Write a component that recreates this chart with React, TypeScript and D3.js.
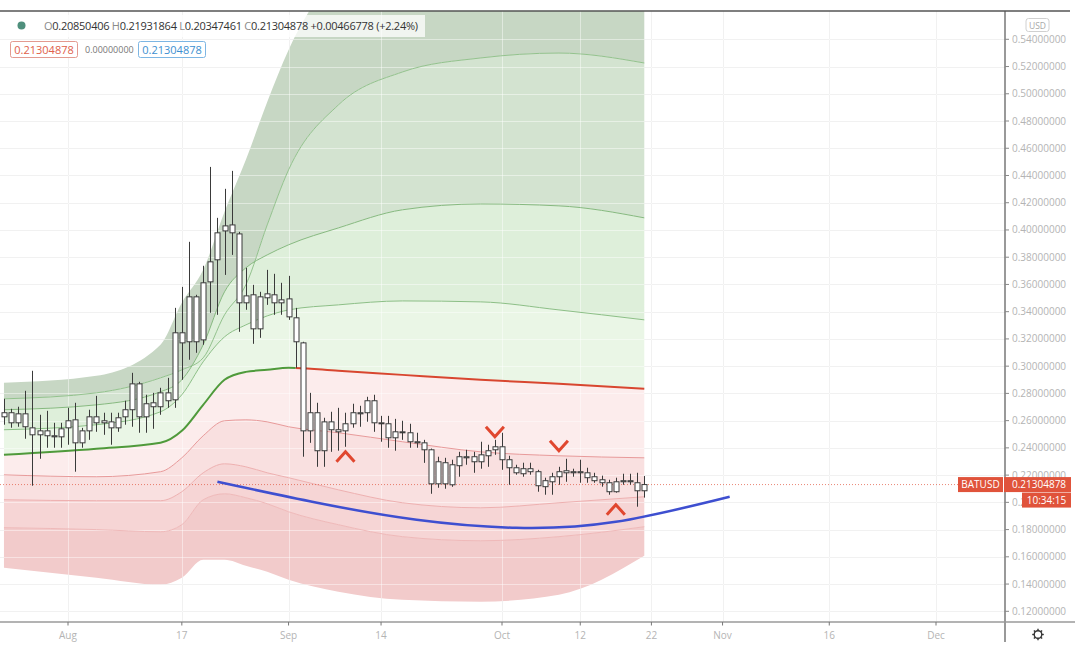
import React from "react";
import * as d3 from "d3";

// ---- data ----
const firstCandle = "2020-07-23";
// [open, high, low, close], one per day
const ohlc: number[][] = [
  [0.2628, 0.276, 0.257, 0.2658], [0.2658, 0.2687, 0.2548, 0.2584], [0.2584, 0.2702, 0.2555, 0.265],
  [0.265, 0.2819, 0.2467, 0.2555], [0.2547, 0.2966, 0.2122, 0.2496], [0.2496, 0.2643, 0.232, 0.2525],
  [0.2525, 0.2672, 0.2401, 0.2489], [0.2489, 0.2584, 0.2401, 0.2481], [0.2481, 0.2584, 0.2401, 0.254],
  [0.2547, 0.2694, 0.2423, 0.2599], [0.2606, 0.2731, 0.2225, 0.2437], [0.2437, 0.2547, 0.2401, 0.2525],
  [0.2525, 0.268, 0.2459, 0.2628], [0.2628, 0.2782, 0.2518, 0.2584], [0.2584, 0.2658, 0.2496, 0.2599],
  [0.2591, 0.2658, 0.2423, 0.2547], [0.2547, 0.2658, 0.2518, 0.2621], [0.2628, 0.2746, 0.257, 0.268],
  [0.268, 0.2951, 0.2555, 0.287], [0.287, 0.2885, 0.2511, 0.2628], [0.2628, 0.279, 0.2511, 0.2724],
  [0.2702, 0.2804, 0.254, 0.2731], [0.2702, 0.2841, 0.2643, 0.2804], [0.2804, 0.2914, 0.2694, 0.2746],
  [0.2753, 0.3428, 0.2694, 0.3245], [0.3245, 0.3582, 0.29, 0.3171], [0.3179, 0.3913, 0.3047, 0.3509],
  [0.3509, 0.3524, 0.3098, 0.3179], [0.3193, 0.3737, 0.3157, 0.3612], [0.3619, 0.4463, 0.3392, 0.3766],
  [0.3781, 0.4089, 0.3377, 0.3979], [0.3993, 0.4302, 0.367, 0.403], [0.4037, 0.4434, 0.3817, 0.3979],
  [0.3971, 0.3986, 0.3252, 0.3465], [0.3465, 0.3722, 0.3414, 0.3516], [0.3524, 0.3597, 0.3164, 0.3274],
  [0.3274, 0.3546, 0.3208, 0.3509], [0.3502, 0.3707, 0.345, 0.3531], [0.3524, 0.3678, 0.3377, 0.3465],
  [0.3465, 0.3612, 0.3377, 0.3487], [0.3494, 0.3663, 0.334, 0.3362], [0.3355, 0.3428, 0.2988, 0.3179],
  [0.3171, 0.3179, 0.2335, 0.2525], [0.2525, 0.2804, 0.2437, 0.2658], [0.2658, 0.2731, 0.2261, 0.2379],
  [0.2379, 0.2621, 0.2261, 0.2591], [0.2591, 0.2665, 0.2371, 0.2533], [0.2533, 0.2694, 0.2379, 0.2518],
  [0.2525, 0.2658, 0.2408, 0.2577], [0.2577, 0.2724, 0.2548, 0.2658], [0.265, 0.2709, 0.2555, 0.2658],
  [0.2658, 0.2775, 0.2592, 0.2746], [0.2746, 0.279, 0.2518, 0.2584], [0.2584, 0.2635, 0.2445, 0.2577],
  [0.2577, 0.2635, 0.2401, 0.2474], [0.2474, 0.2613, 0.2379, 0.2518], [0.2518, 0.2599, 0.2459, 0.2511],
  [0.2511, 0.2577, 0.2401, 0.2445], [0.2445, 0.2511, 0.2401, 0.2437], [0.2437, 0.2459, 0.229, 0.2386],
  [0.2386, 0.2395, 0.2063, 0.2136], [0.2136, 0.2335, 0.2107, 0.2298], [0.2291, 0.2327, 0.21, 0.2136],
  [0.2129, 0.2313, 0.2114, 0.2276], [0.2269, 0.2371, 0.2188, 0.2335], [0.2335, 0.2386, 0.2276, 0.2327],
  [0.2298, 0.2371, 0.2217, 0.2335], [0.2298, 0.2445, 0.2247, 0.2349], [0.2342, 0.2423, 0.2261, 0.2379],
  [0.2386, 0.2459, 0.2349, 0.2408], [0.2408, 0.2511, 0.2239, 0.2313], [0.2313, 0.2342, 0.2129, 0.2254],
  [0.2254, 0.2276, 0.2203, 0.2217], [0.221, 0.2291, 0.2188, 0.2247], [0.2247, 0.2291, 0.2203, 0.2225],
  [0.2225, 0.2239, 0.2078, 0.2122], [0.2115, 0.2181, 0.2056, 0.2159], [0.2151, 0.2217, 0.2056, 0.2188],
  [0.2188, 0.2261, 0.2129, 0.2225], [0.2217, 0.232, 0.2151, 0.2232], [0.2225, 0.2247, 0.2188, 0.2217],
  [0.2217, 0.2313, 0.2144, 0.2225], [0.2217, 0.2254, 0.2144, 0.2181], [0.2188, 0.2217, 0.2144, 0.2159],
  [0.2166, 0.2196, 0.2115, 0.2144], [0.2144, 0.2166, 0.2056, 0.2078], [0.2078, 0.2181, 0.2071, 0.2151],
  [0.2151, 0.221, 0.2129, 0.2159], [0.2159, 0.221, 0.2129, 0.2151], [0.2144, 0.2217, 0.1968, 0.2085],
  [0.20850406, 0.21931864, 0.20347461, 0.21304878],
];

// band lines, sampled at these dates
const bandDates = [
  "2020-07-23", "2020-08-05", "2020-08-14", "2020-08-17", "2020-08-20", "2020-08-23", "2020-08-26",
  "2020-08-29", "2020-09-01", "2020-09-08", "2020-09-17", "2020-09-28", "2020-10-09", "2020-10-21",
];
const upperOuter = [0.2878, 0.2929, 0.3157, 0.3465, 0.3707, 0.4133, 0.4515, 0.494, 0.5322, 0.59, 0.62, 0.65, 0.67, 0.68];
const upper3 = [0.276, 0.2804, 0.2914, 0.2973, 0.3061, 0.3377, 0.3597, 0.4037, 0.4441, 0.4918, 0.516, 0.5263, 0.5299, 0.5226];
const upper2 = [0.268, 0.2716, 0.2812, 0.29, 0.3157, 0.3546, 0.3722, 0.3817, 0.3891, 0.4015, 0.4148, 0.4191, 0.4177, 0.4089];
const upper1 = [0.2533, 0.257, 0.2665, 0.279, 0.3032, 0.3215, 0.3303, 0.3369, 0.3413, 0.345, 0.3479, 0.3472, 0.3413, 0.334];
const basis = [0.2349, 0.2393, 0.2437, 0.2525, 0.2716, 0.29, 0.2958, 0.2973, 0.2988, 0.2966, 0.2936, 0.29, 0.287, 0.2834];
const lower1 = [0.2202, 0.2188, 0.2225, 0.2327, 0.2489, 0.2599, 0.2606, 0.2591, 0.2555, 0.2511, 0.2445, 0.2371, 0.2342, 0.2327];
const lower2 = [0.2019, 0.2012, 0.2012, 0.2078, 0.2217, 0.2283, 0.2261, 0.2217, 0.2181, 0.2092, 0.1997, 0.196, 0.1997, 0.2041];
const lower3 = [0.1814, 0.18, 0.1784, 0.1836, 0.2019, 0.2063, 0.2034, 0.199, 0.1931, 0.1836, 0.1748, 0.1718, 0.1748, 0.1821];
const lowerOuter = [0.152, 0.1447, 0.1396, 0.1447, 0.1579, 0.1579, 0.1535, 0.149, 0.1432, 0.1344, 0.1285, 0.1271, 0.1322, 0.1608];
const basisTurnsRed = "2020-09-02";

// hand drawn blue arc
const arcDates = ["2020-08-22", "2020-09-05", "2020-09-19", "2020-10-03", "2020-10-17", "2020-11-02"];
const arcValues = [0.2151, 0.1997, 0.1872, 0.1813, 0.1857, 0.2041];

// red chevrons: "up" drawn under price, "down" above
const marks = [
  { date: "2020-09-09", value: 0.2335, dir: "up" },
  { date: "2020-09-30", value: 0.2518, dir: "down" },
  { date: "2020-10-09", value: 0.2415, dir: "down" },
  { date: "2020-10-17", value: 0.1946, dir: "up" },
];

const priceTicks = d3.range(12, 55, 2).map((v) => v / 100);
const dateTicks = [
  ["2020-08-01", "Aug"], ["2020-08-17", "17"], ["2020-09-01", "Sep"], ["2020-09-14", "14"],
  ["2020-10-01", "Oct"], ["2020-10-12", "12"], ["2020-10-22", "22"], ["2020-11-01", "Nov"],
  ["2020-11-16", "16"], ["2020-12-01", "Dec"],
];
const lastPrice = 0.21304878;
const header = [["O", "0.20850406"], ["H", "0.21931864"], ["L", "0.20347461"], ["C", "0.21304878"]];
const change = "+0.00466778 (+2.24%)";

const parse = d3.utcParse("%Y-%m-%d");
const font = "'Open Sans', 'DejaVu Sans', sans-serif";

export default function App() {
  const W = 1080;
  const H = 649;
  const axisX = 1005;
  const axisY = 622;
  const top = 11;

  const x = d3.scaleUtc().domain([parse("2020-08-01")!, parse("2020-12-01")!]).range([68, 936]);
  const y = d3.scaleLinear().domain([0.12, 0.54]).range([611.3, 39.3]);

  const bd = bandDates.map((d) => parse(d)!);
  const area = (a: number[], b: number[]) =>
    d3
      .area<number>()
      .x((_, i) => x(bd[i]))
      .y0((_, i) => y(a[i]))
      .y1((_, i) => y(b[i]))
      .curve(d3.curveMonotoneX)(a.map((_, i) => i)) as string;
  const line = (a: number[]) =>
    d3
      .line<number>()
      .x((_, i) => x(bd[i]))
      .y((v) => y(v))
      .curve(d3.curveMonotoneX)(a) as string;

  const bands = [
    [upperOuter, upper3, "#c7d7c4"],
    [upper3, upper2, "#d3e3d0"],
    [upper2, upper1, "#deefda"],
    [upper1, basis, "#eaf6e6"],
    [basis, lower1, "#fcecec"],
    [lower1, lower2, "#f9e0e0"],
    [lower2, lower3, "#f6d5d5"],
    [lower3, lowerOuter, "#f2cbcb"],
  ] as [number[], number[], string][];

  const split = x(parse(basisTurnsRed)!);

  const arc = d3
    .line<number>()
    .x((_, i) => x(parse(arcDates[i])!))
    .y((v) => y(v))
    .curve(d3.curveNatural)(arcValues) as string;

  const start = parse(firstCandle)!;
  const bodyW = 5;

  return (
    <svg width={W} height={H} style={{ display: "block", position: "absolute", left: 0, top: 0, background: "#fff" }} fontFamily={font}>
      <defs>
        <clipPath id="plot">
          <rect x={0} y={top} width={axisX} height={axisY - top} />
        </clipPath>
        <clipPath id="green">
          <rect x={0} y={0} width={split} height={H} />
        </clipPath>
        <clipPath id="red">
          <rect x={split} y={0} width={W} height={H} />
        </clipPath>
      </defs>

      {/* grid under the fills */}
      <g stroke="#e6e6e6" strokeWidth={1}>
        {priceTicks.map((v) => (
          <line key={v} x1={0} x2={axisX} y1={Math.round(y(v)) + 0.5} y2={Math.round(y(v)) + 0.5} />
        ))}
        {dateTicks.map(([d]) => (
          <line key={d} x1={Math.round(x(parse(d)!)) + 0.5} x2={Math.round(x(parse(d)!)) + 0.5} y1={top} y2={axisY} />
        ))}
      </g>

      <g clipPath="url(#plot)">
        {bands.map(([a, b, c], i) => (
          <path key={i} d={area(a, b)} fill={c} />
        ))}

        {/* grid showing through the fills */}
        <g stroke="#ffffff" strokeOpacity={0.45} strokeWidth={1}>
          {priceTicks.map((v) => (
            <line key={v} x1={0} x2={axisX} y1={Math.round(y(v)) + 0.5} y2={Math.round(y(v)) + 0.5} />
          ))}
          {dateTicks.map(([d]) => (
            <line key={d} x1={Math.round(x(parse(d)!)) + 0.5} x2={Math.round(x(parse(d)!)) + 0.5} y1={top} y2={axisY} />
          ))}
        </g>

        <g fill="none" strokeWidth={1}>
          <path d={line(upper3)} stroke="#93c28d" />
          <path d={line(upper2)} stroke="#86b97f" />
          <path d={line(upper1)} stroke="#8cbf86" />
          <path d={line(lower1)} stroke="#e89a9a" />
          <path d={line(lower2)} stroke="#eeb0b0" />
          <path d={line(lower3)} stroke="#efb9b9" />
        </g>
        <path d={line(basis)} fill="none" stroke="#4f9a3b" strokeWidth={2} clipPath="url(#green)" />
        <path d={line(basis)} fill="none" stroke="#d8462f" strokeWidth={2} clipPath="url(#red)" />

        {/* last price dotted line */}
        <line x1={0} x2={axisX} y1={y(lastPrice)} y2={y(lastPrice)} stroke="#e0533b" strokeOpacity={0.7} strokeDasharray="1 2" />

        <path d={arc} fill="none" stroke="#3e4fd0" strokeWidth={2.5} />

        {/* candles */}
        <g>
          {ohlc.map(([o, h, l, c], i) => {
            const cx = Math.round(x(d3.utcDay.offset(start, i))) + 0.5;
            const t = y(Math.max(o, c));
            const b = y(Math.min(o, c));
            return (
              <g key={i}>
                <line x1={cx} x2={cx} y1={y(h)} y2={y(l)} stroke="#3a3a3a" strokeWidth={1} />
                <rect x={cx - bodyW / 2} y={t} width={bodyW} height={Math.max(b - t, 1)} fill="#fff" stroke="#3a3a3a" strokeWidth={1} />
              </g>
            );
          })}
        </g>

        {marks.map((m, i) => {
          const cx = x(parse(m.date)!);
          const cy = y(m.value);
          const s = m.dir === "up" ? -1 : 1;
          return (
            <path
              key={i}
              d={`M${cx - 9},${cy - 5 * s} L${cx},${cy + 5 * s} L${cx + 9},${cy - 5 * s}`}
              fill="none"
              stroke="#e0472f"
              strokeWidth={3}
            />
          );
        })}
      </g>

      {/* frame and axes */}
      <line x1={0} x2={1070} y1={top} y2={top} stroke="#555" strokeWidth={1.5} />
      <line x1={axisX} x2={axisX} y1={top} y2={642} stroke="#555" strokeWidth={1.2} />
      <line x1={0} x2={1075} y1={axisY} y2={axisY} stroke="#9a9a9a" strokeWidth={1.5} />

      {/* price axis */}
      <g fontSize={10} fill="#b4b4b4">
        {priceTicks.map((v) => (
          <g key={v}>
            <line x1={axisX} x2={axisX + 4} y1={y(v)} y2={y(v)} stroke="#888" />
            <text x={1012} y={y(v)} dy="0.35em">
              {v.toFixed(8)}
            </text>
          </g>
        ))}
      </g>
      <rect x={1026} y={18.5} width={23} height={13} rx={2.5} fill="#fff" stroke="#d0d0d0" />
      <text x={1037.5} y={28.5} fontSize={8.5} fill="#a8a8a8" textAnchor="middle">
        USD
      </text>

      {/* time axis */}
      <g fontSize={10} fill="#b4b4b4" textAnchor="middle">
        {dateTicks.map(([d, label]) => (
          <g key={d}>
            <line x1={x(parse(d)!)} x2={x(parse(d)!)} y1={axisY} y2={axisY + 3.5} stroke="#777" />
            <text x={x(parse(d)!)} y={638.5}>
              {label}
            </text>
          </g>
        ))}
      </g>

      {/* last price labels */}
      <rect x={958} y={y(lastPrice) - 7.5} width={45} height={15} fill="#e0533b" />
      <text x={980.5} y={y(lastPrice)} dy="0.35em" fontSize={10} fill="#fff" textAnchor="middle">
        BATUSD
      </text>
      <rect x={1004} y={y(lastPrice) - 7.5} width={67} height={15} fill="#e0533b" />
      <text x={1012} y={y(lastPrice)} dy="0.35em" fontSize={10} fill="#fff">
        {lastPrice.toFixed(8)}
      </text>
      <rect x={1022} y={y(lastPrice) + 8} width={49} height={15} fill="#e0533b" />
      <text x={1046.5} y={y(lastPrice) + 15.5} dy="0.35em" fontSize={10} fill="#fff" textAnchor="middle">
        10:34:15
      </text>

      {/* settings gear */}
      <g transform="translate(1038,634.5)" stroke="#333" strokeWidth={1.4} fill="none">
        <circle r={3.8} />
        {d3.range(8).map((k) => {
          const a = (k * Math.PI) / 4;
          return <line key={k} x1={Math.cos(a) * 3.8} y1={Math.sin(a) * 3.8} x2={Math.cos(a) * 5.8} y2={Math.sin(a) * 5.8} />;
        })}
      </g>

      {/* legend */}
      <rect x={37} y={15} width={388} height={22} fill="#fff" fillOpacity={0.75} />
      <circle cx={21.5} cy={25.5} r={4} fill="#4f8f7c" />
      <text x={44} y={30} fontSize={11} textLength={374} lengthAdjust="spacing">
        {header.map(([k, v]) => (
          <React.Fragment key={k}>
            <tspan fill="#8a8a8a">{k}</tspan>
            <tspan fill="#333">{v} </tspan>
          </React.Fragment>
        ))}
        <tspan fill="#333">{change}</tspan>
      </text>
      <rect x={10.5} y={41.5} width={67} height={16} rx={2} fill="#fff" stroke="#e39a90" />
      <text x={44} y={53.5} fontSize={11} fill="#e0604a" textAnchor="middle">
        0.21304878
      </text>
      <text x={85} y={53} fontSize={9} fill="#777">
        0.00000000
      </text>
      <rect x={138.5} y={41.5} width={67} height={16} rx={2} fill="#fff" stroke="#7db6e3" />
      <text x={172} y={53.5} fontSize={11} fill="#3d8fd0" textAnchor="middle">
        0.21304878
      </text>
    </svg>
  );
}
